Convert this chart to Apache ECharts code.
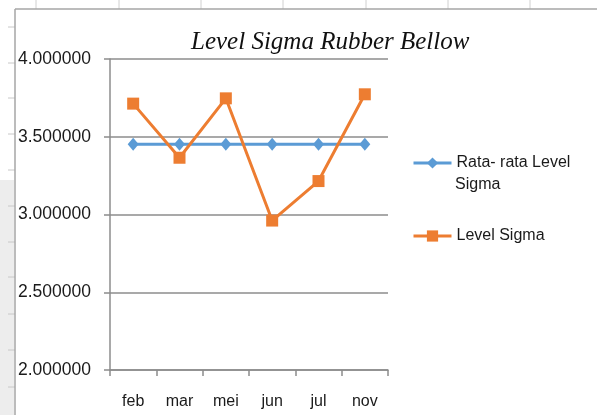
<!DOCTYPE html>
<html><head><meta charset="utf-8">
<script src="https://cdn.jsdelivr.net/npm/echarts@6/dist/echarts.min.js"></script>
<style>html,body{margin:0;padding:0;background:#fff}#c{width:597px;height:415px}</style>
</head><body><div id="c"></div>
<script>
const categories = ['feb','mar','mei','jun','jul','nov'];
const avgValues = [3.451,3.451,3.451,3.451,3.451,3.451];
const levelValues = [3.713,3.365,3.747,2.961,3.215,3.773];
const yTicks = {min:2, max:4, interval:0.5};
const seriesNames = ['Rata- rata Level Sigma','Level Sigma'];

const chart = echarts.init(document.getElementById('c'), null, {renderer:'canvas'});
const grey = '#8c8c8c';
const lab = {fontFamily:'Liberation Sans', fontSize:16, color:'#1a1a1a'};
const bgGraphics = [];
[36,119,201,283,366,448,530].forEach(x=>bgGraphics.push({type:'line',shape:{x1:x,y1:0,x2:x,y2:9},style:{stroke:'#d0d0d0',lineWidth:1},silent:true}));
bgGraphics.push({type:'rect',shape:{x:0,y:180,width:14,height:235},style:{fill:'#ededed'},silent:true});
[27,63,98,134,170,206,242,277,314,350,387].forEach(y=>bgGraphics.push({type:'line',shape:{x1:8,y1:y,x2:15,y2:y},style:{stroke:'#c8c8c8',lineWidth:1},silent:true}));
bgGraphics.push({type:'line',shape:{x1:15,y1:9,x2:597,y2:9},style:{stroke:'#a6a6a6',lineWidth:1.5},silent:true});
bgGraphics.push({type:'line',shape:{x1:15,y1:9,x2:15,y2:415},style:{stroke:'#a6a6a6',lineWidth:1.5},silent:true});
bgGraphics.push({type:'text',left:455,top:177,style:{text:'Sigma',font:'16px "Liberation Sans"',fill:'#1a1a1a'},silent:true});

chart.setOption({
  animation:false,
  backgroundColor:'#fff',
  title:{text:'Level Sigma Rubber Bellow',left:186,top:25,textStyle:{fontFamily:'Liberation Serif',fontStyle:'italic',fontWeight:'normal',fontSize:25,color:'#111'}},
  graphic:bgGraphics,
  grid:{left:110,top:59,right:209,bottom:45,containLabel:false},
  legend:[
    {data:[seriesNames[0]],orient:'vertical',left:407,top:150,itemWidth:38,itemHeight:14,formatter:()=> 'Rata- rata Level',textStyle:lab,itemGap:0,lineStyle:{width:3}},
    {data:[seriesNames[1]],orient:'vertical',left:407,top:223,itemWidth:38,itemHeight:14,textStyle:lab,itemGap:0,lineStyle:{width:3}}
  ],
  xAxis:{type:'category',data:categories,boundaryGap:true,
    axisLine:{lineStyle:{color:grey,width:1.5}},
    axisTick:{show:true,length:6,lineStyle:{color:grey,width:1.5}},
    axisLabel:Object.assign({margin:24},lab)},
  yAxis:{type:'value',min:yTicks.min,max:yTicks.max,interval:yTicks.interval,
    axisLine:{show:true,lineStyle:{color:grey,width:1.5}},
    axisTick:{show:true,length:6,lineStyle:{color:grey,width:1.5}},
    splitLine:{lineStyle:{color:grey,width:1.5}},
    axisLabel:Object.assign({margin:19,formatter:v=>v.toFixed(6)},lab,{fontSize:17.5})},
  series:[
    {name:seriesNames[0],type:'line',data:avgValues,symbol:'diamond',symbolSize:[11,13],
      itemStyle:{color:'#5B9BD5'},lineStyle:{color:'#5B9BD5',width:3}},
    {name:seriesNames[1],type:'line',data:levelValues,symbol:'rect',symbolSize:12,
      itemStyle:{color:'#ED7D31'},lineStyle:{color:'#ED7D31',width:3}}
  ]
});
</script></body></html>
